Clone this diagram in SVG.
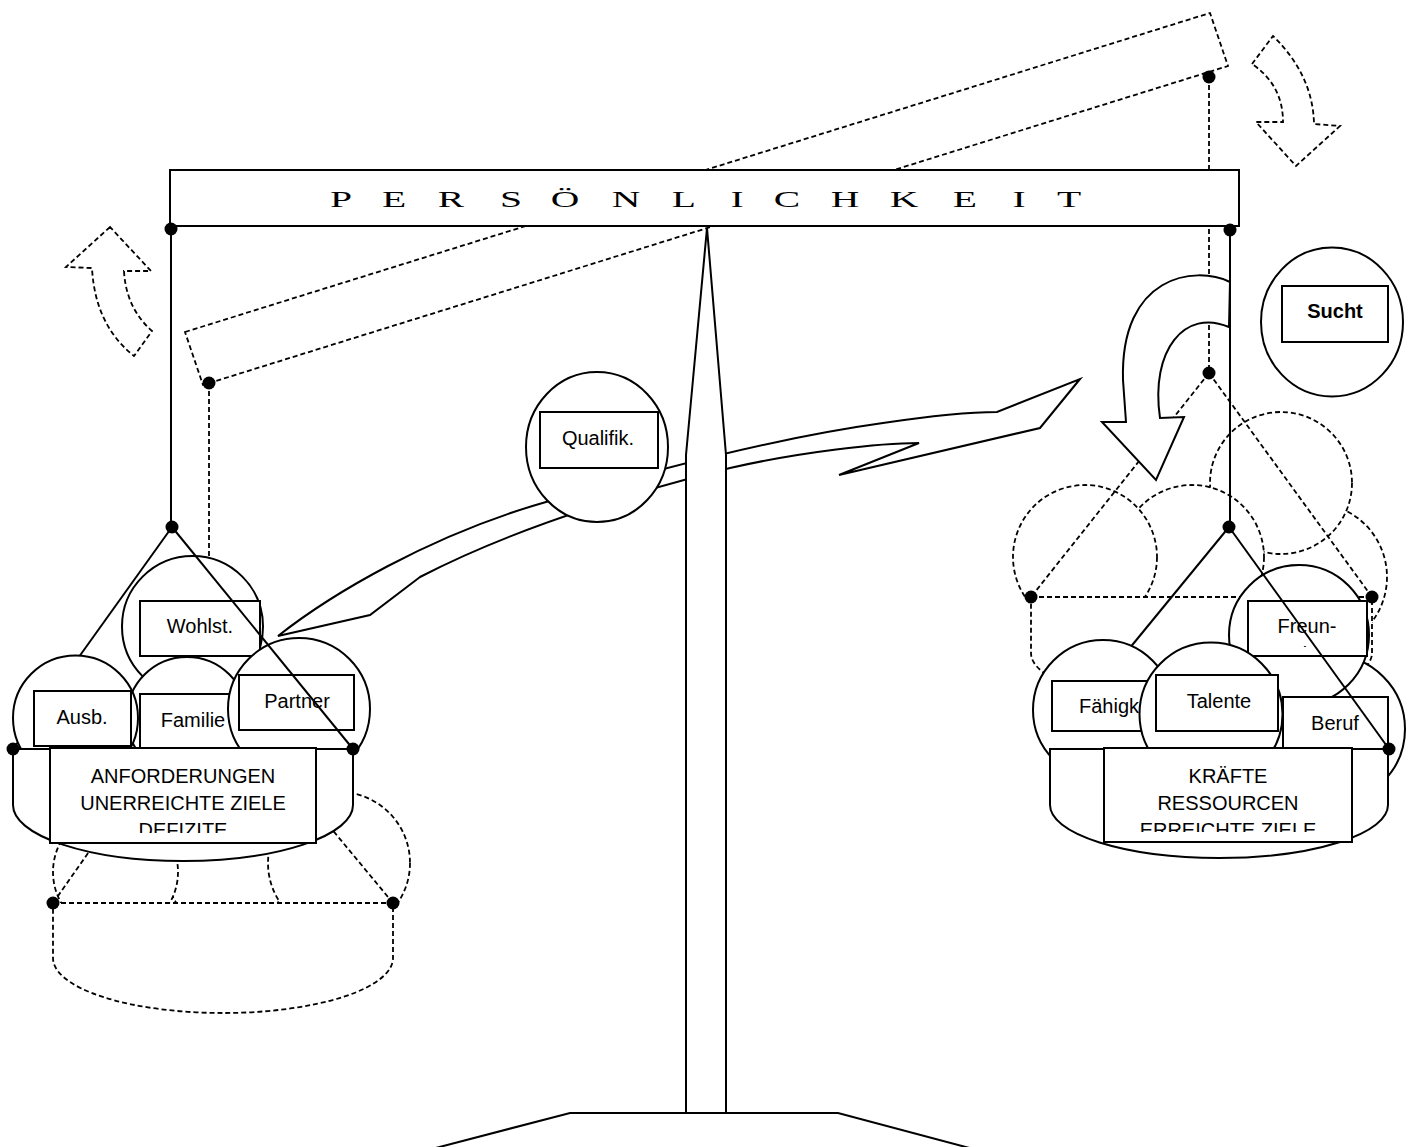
<svg xmlns="http://www.w3.org/2000/svg" width="1412" height="1147" viewBox="0 0 1412 1147">
<style>
.s{fill:#fff;stroke:#000;stroke-width:2}
.n{fill:none;stroke:#000;stroke-width:2}
.d{fill:none;stroke:#000;stroke-width:1.8;stroke-dasharray:5 3}
.dw{fill:#fff;stroke:#000;stroke-width:1.8;stroke-dasharray:5 3}
.dot{fill:#000}
.t{font-family:"Liberation Sans",Arial,sans-serif;font-size:20px;fill:#000;text-anchor:middle}
.ts{font-family:"Liberation Sans",Arial,sans-serif;font-size:20px;fill:#000}
.b{font-weight:bold}
.big{font-family:"Liberation Serif","Times New Roman",serif;font-size:24px;fill:#000;text-anchor:middle}
</style>
<defs>
<clipPath id="clipL"><rect x="50" y="748" width="266" height="85"/></clipPath>
<clipPath id="clipR"><rect x="1104" y="748" width="248" height="84"/></clipPath>
<clipPath id="clipF"><rect x="1248" y="601" width="119" height="46"/></clipPath>
</defs>
<rect width="1412" height="1147" fill="#fff"/>

<g id="tilted-beam">
<polygon class="d" points="185,332 1210,13 1228,66 203,385"/>
<line class="d" x1="209" y1="383" x2="209" y2="681"/>
<line class="d" x1="1209" y1="77" x2="1209" y2="373"/>
<circle class="dot" cx="209" cy="383" r="6.5"/>
<circle class="dot" cx="1209" cy="77" r="6.5"/>
</g>

<g id="rotate-arrows">
<path class="d" d="M110,227 L66,267 L92,268 Q95,325 134,356 L152,331 Q126,308 124,271 L151,271 Z"/>
<path class="d" d="M1252,64 L1273,36 Q1313,75 1314,124 L1340,126 L1296,166 L1256,122 L1283,122 Q1283,85 1252,64 Z"/>
</g>

<g id="right-raised-basket">
<circle class="dw" cx="1313" cy="577" r="74"/>
<circle class="dw" cx="1281" cy="483" r="71"/>
<circle class="dw" cx="1192" cy="557" r="72"/>
<circle class="dw" cx="1085" cy="557" r="72"/>
<path class="dw" d="M1031,597 L1372,597 L1372,653 A170,52 0 0 1 1031,653 Z"/>
<line class="d" x1="1209" y1="373" x2="1031" y2="597"/>
<line class="d" x1="1209" y1="373" x2="1372" y2="597"/>
<circle class="dot" cx="1209" cy="373" r="6.5"/>
<circle class="dot" cx="1031" cy="597" r="6.5"/>
<circle class="dot" cx="1372" cy="597" r="6.5"/>
</g>

<g id="left-lowered-basket">
<circle class="dw" cx="227" cy="871" r="60"/>
<circle class="dw" cx="115.5" cy="872" r="62.5"/>
<circle class="dw" cx="339" cy="863" r="71"/>
<path class="dw" d="M53,903 L393,903 L393,958 A170,55 0 0 1 53,958 Z"/>
<line class="d" x1="53" y1="903" x2="209" y2="681"/>
<line class="d" x1="393" y1="903" x2="209" y2="681"/>
<circle class="dot" cx="53" cy="903" r="6.5"/>
<circle class="dot" cx="393" cy="903" r="6.5"/>
</g>

<g id="qualifik-arrow">
<path class="s" d="M278,636 C330,595 430,535 546,502 C620,480 760,440 883,423 C930,416 970,412 997,412 L1080,379 L1040,428 L839,475 L919,443 C880,443 800,452 730,468 C650,488 520,525 420,577 L370,615 Z"/>
</g>

<g id="qualifik">
<ellipse class="s" cx="597" cy="447" rx="71" ry="75"/>
<rect class="s" x="540" y="412" width="118" height="56"/>
<text class="t" x="598" y="445">Qualifik.</text>
</g>

<g id="pillar">
<polygon class="s" points="707,228 686,455 686,1113 726,1113 726,455"/>
<polyline class="n" points="428,1150 570,1113 838,1113 977,1150"/>
</g>

<g id="turn-arrow">
<path class="s" d="M1230,282 C1195,265 1120,275 1123,380 L1126,422 L1102,422 L1156,480 L1184,417 L1160,418 C1150,350 1185,308 1229,327 Z"/>
</g>

<g id="beam">
<rect class="s" x="170" y="170" width="1069" height="56"/>
<text class="big" transform="scale(1.65 1)" x="206.7 238.8 273.3 309.7 342.4 379.4 414.5 446.7 477 512.1 547.9 584.8 617.6 647.9" y="207">PERSÖNLICHKEIT</text>
<line class="n" x1="171" y1="228" x2="171" y2="527"/>
<line class="n" x1="1230" y1="228" x2="1230" y2="527"/>
<circle class="dot" cx="171" cy="229" r="6.5"/>
<circle class="dot" cx="1230" cy="230" r="6.5"/>
</g>

<g id="sucht">
<ellipse class="s" cx="1332" cy="322" rx="71" ry="74.5"/>
<rect class="s" x="1282" y="286" width="106" height="56"/>
<text class="t b" x="1335" y="318">Sucht</text>
</g>

<g id="left-basket">
<line class="n" x1="172" y1="527" x2="13" y2="749"/>
<circle class="s" cx="192.5" cy="626.5" r="70.5"/>
<rect class="s" x="140" y="601" width="120" height="55"/>
<text class="t" x="200" y="633">Wohlst.</text>
<circle class="s" cx="187" cy="717" r="60"/>
<rect class="s" x="140" y="694" width="105" height="60"/>
<text class="t" x="193" y="727">Familie</text>
<circle class="s" cx="75.5" cy="718" r="62.5"/>
<rect class="s" x="34" y="691" width="97" height="55"/>
<text class="t" x="82" y="724">Ausb.</text>
<circle class="s" cx="299" cy="709" r="71"/>
<rect class="s" x="239" y="675" width="115" height="55"/>
<text class="t" x="297" y="708">Partner</text>
<line class="n" x1="172" y1="527" x2="353" y2="749"/>
<path class="s" d="M13,749 L353,749 L353,805 A170,56 0 0 1 13,805 Z"/>
<rect class="s" x="50" y="748" width="266" height="95"/>
<g clip-path="url(#clipL)">
<text class="t" x="183" y="783">ANFORDERUNGEN</text>
<text class="t" x="183" y="810">UNERREICHTE ZIELE</text>
<text class="t" x="183" y="837">DEFIZITE</text>
</g>
<circle class="dot" cx="172" cy="527" r="6.5"/>
<circle class="dot" cx="13" cy="749" r="6.5"/>
<circle class="dot" cx="353" cy="749" r="6.5"/>
</g>

<g id="right-basket">
<line class="n" x1="1229" y1="527" x2="1047" y2="749"/>
<circle class="s" cx="1331" cy="729" r="74"/>
<circle class="s" cx="1299" cy="635" r="70"/>
<rect class="s" x="1248" y="601" width="119" height="55"/>
<text class="t" x="1307" y="633">Freun-</text>
<g clip-path="url(#clipF)"><text class="t" x="1307" y="661">de</text></g>
<circle class="s" cx="1103" cy="710" r="70"/>
<rect class="s" x="1052" y="681" width="120" height="50"/>
<text class="ts" x="1079" y="713">Fähigk</text>
<circle class="s" cx="1211" cy="714" r="71.5"/>
<rect class="s" x="1156" y="675" width="122" height="56"/>
<text class="t" x="1219" y="708">Talente</text>
<rect class="s" x="1283" y="697" width="105" height="60"/>
<text class="t" x="1335" y="730">Beruf</text>
<line class="n" x1="1229" y1="527" x2="1389" y2="749"/>
<path class="s" d="M1050,749 L1388,749 L1388,805 A169,53 0 0 1 1050,805 Z"/>
<rect class="s" x="1104" y="748" width="248" height="94"/>
<g clip-path="url(#clipR)">
<text class="t" x="1228" y="783">KRÄFTE</text>
<text class="t" x="1228" y="810">RESSOURCEN</text>
<text class="t" x="1228" y="837">ERREICHTE ZIELE</text>
</g>
<circle class="dot" cx="1229" cy="527" r="6.5"/>
<circle class="dot" cx="1389" cy="749" r="6.5"/>
</g>
</svg>
